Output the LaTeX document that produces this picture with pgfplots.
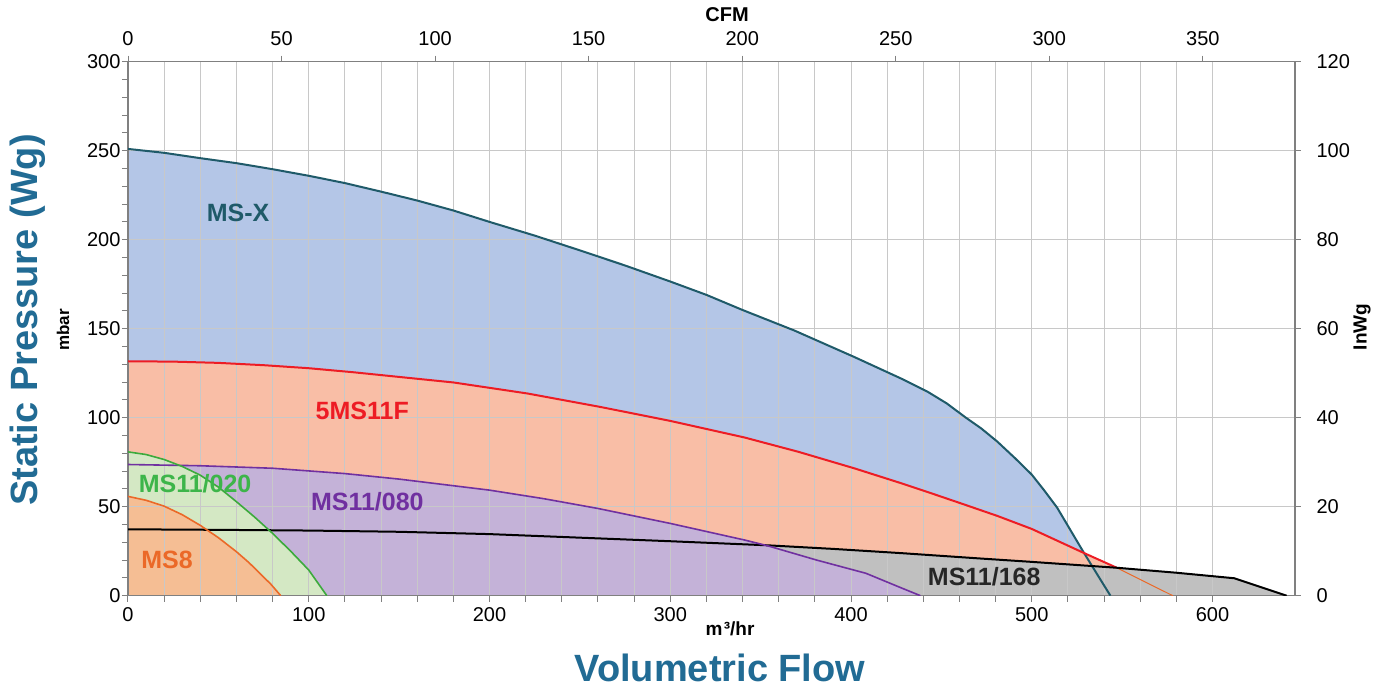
\documentclass[border=0pt]{standalone}
\usepackage{fontspec}
\setmainfont{Liberation Sans}
\usepackage{pgfplots}
\pgfplotsset{compat=1.18}
\definecolor{msxline}{RGB}{31,90,105}
\definecolor{msxfill}{RGB}{180,198,231}
\definecolor{redline}{RGB}{237,28,36}
\definecolor{salmon}{RGB}{249,190,166}
\definecolor{purpline}{RGB}{112,48,160}
\definecolor{purpfill}{RGB}{196,178,216}
\definecolor{greenline}{RGB}{60,170,60}
\definecolor{greenlab}{RGB}{61,181,74}
\definecolor{greenfill}{RGB}{212,232,196}
\definecolor{orgline}{RGB}{235,105,40}
\definecolor{orgfill}{RGB}{245,190,148}
\definecolor{grayfill}{RGB}{192,192,192}
\definecolor{titleblue}{RGB}{33,107,148}
\definecolor{gridc}{RGB}{200,200,200}
\definecolor{axisc}{RGB}{128,128,128}
\pgfplotsset{base/.style={scale only axis, width=1167pt, height=534pt,
  /pgf/number format/assume math mode=true,
  tick label style={font=\fontsize{20}{24}\selectfont},
  tick align=outside, major tick length=6pt, minor tick length=6pt,
  tick style={axisc, line width=1pt},
  axis line style={axisc, line width=1.3pt}}}
\begin{document}
\begin{tikzpicture}
\path[use as bounding box] (-128pt,-91.3pt) rectangle (1250pt,595.7pt);
% fills
\begin{axis}[base, xmin=0, xmax=645.6, ymin=0, ymax=300, axis on top,
  axis x line*=bottom, axis y line*=left,
  xtick={0,100,...,600}, minor x tick num=4,
  ytick={0,50,...,300}, minor y tick num=4,
  xmajorgrids, xminorgrids, ymajorgrids,
  grid style={gridc, line width=1pt}, minor grid style={gridc, line width=1pt},
  xticklabel style={yshift=-2pt}, yticklabel style={xshift=2pt}]
\addplot[fill=msxfill, draw=none] coordinates {(0,251)(20,248.8)(40,245.8)(60,243)(80,239.6)(100,235.9)(120,231.8)(140,227)(160,222)(180,216.4)(200,210)(225,202.3)(250,194)(275,185.5)(300,176.5)(320,169)(340,160.5)(368.6,149)(401.8,134.1)(427.7,122)(442.5,114.5)(453,108)(463,100.4)(472,94)(481,86.5)(491,77)(500,68)(507,59)(514,49.5)(521,37.5)(528.6,24.5)(536,12.3)(543.5,0)} \closedcycle;
\addplot[fill=salmon, draw=none] coordinates {(0,131.7)(25,131.5)(50,130.8)(75,129.5)(100,127.8)(125,125.5)(150,122.9)(180,119.8)(221,113.6)(261,106.1)(300,98.2)(341,88.9)(371,80.8)(402,71.5)(428,63.1)(442.5,58.2)(461,51.8)(481,44.8)(500,37.5)(528.6,24.1)(547,15.7)(578,0)} \closedcycle;
\addplot[fill=grayfill, draw=none] coordinates {(0,37.3)(50,37)(100,36.6)(150,35.9)(200,34.6)(260,32.2)(300,30.6)(354,28.3)(390,26.3)(428,23.9)(470,21)(500,19)(547,15.7)(580,12.9)(612,9.8)(641,0)} \closedcycle;
\addplot[fill=purpfill, draw=none] coordinates {(0,73.7)(40,73)(80,71.6)(120,68.6)(150,65.5)(200,59.3)(230,54.5)(260,49)(300,40.6)(341,31.3)(354,28)(381,20)(408.2,12.6)(428,4.3)(438.4,0)} \closedcycle;
\addplot[fill=greenfill, draw=none] coordinates {(0,80.8)(10,79.3)(20,76.5)(30,72.6)(40,67.7)(50,61)(60,52.8)(70,44.2)(80,35)(90,25)(100,14.4)(110,0)} \closedcycle;
\addplot[fill=orgfill, draw=none] coordinates {(0,55.8)(10,53.6)(20,50.3)(30,45.5)(40,39.5)(50,32.6)(60,24.7)(67,18.5)(73,12.5)(79,6.5)(84.5,0)} \closedcycle;
\end{axis}
% lines and labels
\begin{axis}[base, xmin=0, xmax=645.6, ymin=0, ymax=300, hide axis]
\addplot[msxline, line width=2pt, line join=round] coordinates {(0,251)(20,248.8)(40,245.8)(60,243)(80,239.6)(100,235.9)(120,231.8)(140,227)(160,222)(180,216.4)(200,210)(225,202.3)(250,194)(275,185.5)(300,176.5)(320,169)(340,160.5)(368.6,149)(401.8,134.1)(427.7,122)(442.5,114.5)(453,108)(463,100.4)(472,94)(481,86.5)(491,77)(500,68)(507,59)(514,49.5)(521,37.5)(528.6,24.5)(536,12.3)(543.5,0)};
\addplot[redline, line width=2pt, line join=round] coordinates {(0,131.7)(25,131.5)(50,130.8)(75,129.5)(100,127.8)(125,125.5)(150,122.9)(180,119.8)(221,113.6)(261,106.1)(300,98.2)(341,88.9)(371,80.8)(402,71.5)(428,63.1)(442.5,58.2)(461,51.8)(481,44.8)(500,37.5)(528.6,24.1)(547,15.7)};
\addplot[orgline, line width=1pt] coordinates {(547,15.7)(578,0)};
\addplot[black, line width=2pt, line join=round] coordinates {(0,37.3)(50,37)(100,36.6)(150,35.9)(200,34.6)(260,32.2)(300,30.6)(354,28.3)(390,26.3)(428,23.9)(470,21)(500,19)(547,15.7)(580,12.9)(612,9.8)(641,0)};
\addplot[purpline, line width=1.6pt, line join=round] coordinates {(0,73.7)(40,73)(80,71.6)(120,68.6)(150,65.5)(200,59.3)(230,54.5)(260,49)(300,40.6)(341,31.3)(354,28)(381,20)(408.2,12.6)(428,4.3)(438.4,0)};
\addplot[greenline, line width=1.6pt, line join=round] coordinates {(0,80.8)(10,79.3)(20,76.5)(30,72.6)(40,67.7)(50,61)(60,52.8)(70,44.2)(80,35)(90,25)(100,14.4)(110,0)};
\addplot[orgline, line width=1.6pt, line join=round] coordinates {(0,55.8)(10,53.6)(20,50.3)(30,45.5)(40,39.5)(50,32.6)(60,24.7)(67,18.5)(73,12.5)(79,6.5)(84.5,0)};
\node[font=\fontsize{25}{30}\selectfont\bfseries, text=msxline] at (axis cs:60.9,215.3) {MS-X};
\node[font=\fontsize{25}{30}\selectfont\bfseries, text=redline] at (axis cs:129.6,103.6) {5MS11F};
\node[font=\fontsize{25}{30}\selectfont\bfseries, text=greenlab] at (axis cs:37.1,63.2) {MS11/020};
\node[font=\fontsize{25}{30}\selectfont\bfseries, text=purpline] at (axis cs:132.4,52.6) {MS11/080};
\node[font=\fontsize{25}{30}\selectfont\bfseries, text=orgline] at (axis cs:21.6,20.0) {MS8};
\node[font=\fontsize{25}{30}\selectfont\bfseries, text=black!85] at (axis cs:473.7,10.5) {MS11/168};
\end{axis}
% secondary axes
\begin{axis}[base, xmin=0, xmax=380, ymin=0, ymax=120,
  axis x line*=top, axis y line*=right,
  xtick={0,50,...,350}, ytick={0,20,...,120},
  xticklabel style={yshift=6pt}, yticklabel style={xshift=12pt}]
\addplot[draw=none] coordinates {(0,0)};
\end{axis}
\node[rotate=90, font=\fontsize{38}{44}\selectfont\bfseries, text=titleblue] at (-100pt,275.7pt) {Static Pressure (Wg)};
\node[rotate=90, font=\fontsize{17}{20}\selectfont\bfseries] at (-65pt,265.7pt) {mbar};
\node[rotate=90, font=\fontsize{19}{22}\selectfont\bfseries] at (1234pt,268.7pt) {InWg};
\node[font=\fontsize{20}{24}\selectfont\bfseries] at (599pt,580.7pt) {CFM};
\node[font=\fontsize{19}{22}\selectfont\bfseries] at (602pt,-33.3pt) {m\kern1.5pt³/hr};
\node[font=\fontsize{38}{44}\selectfont\bfseries, text=titleblue] at (592pt,-72.3pt) {Volumetric Flow};
\end{tikzpicture}
\end{document}
